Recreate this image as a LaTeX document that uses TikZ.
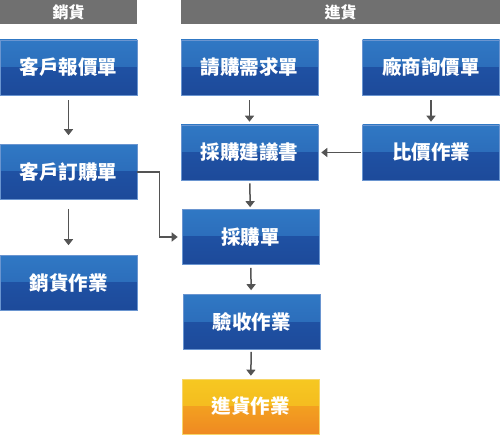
\documentclass[tikz,border=0pt]{standalone}
\usepackage{fontspec}
\newfontfamily\cjk{Noto Sans CJK TC}
\usetikzlibrary{arrows.meta}
\definecolor{hdrgray}{HTML}{707070}
\definecolor{arrowgray}{HTML}{545454}
\definecolor{blueA}{HTML}{3078C4}
\definecolor{blueB}{HTML}{2863B2}
\definecolor{blueC}{HTML}{1F51A3}
\definecolor{blueD}{HTML}{1D4A9A}
\definecolor{blueedge}{HTML}{6A95D0}
\definecolor{orangeA}{HTML}{F6C821}
\definecolor{orangeB}{HTML}{F4B01F}
\definecolor{orangeC}{HTML}{F3A020}
\definecolor{orangeD}{HTML}{EF8922}
\definecolor{orangeedge}{HTML}{F7D66A}
\tikzset{
	glossy/.style n args={5}{draw=#5, line width=.6pt,
		path picture={
			\fill[top color=#1, bottom color=#2] (path picture bounding box.north west) rectangle (path picture bounding box.east);
			\fill[top color=#3, bottom color=#4] (path picture bounding box.west) rectangle (path picture bounding box.south east);
		}},
	cell/.style={minimum width=137pt, minimum height=55pt, inner sep=0pt, text=white,
		font=\cjk\bfseries\fontsize{19.5}{21}\selectfont},
	bluecell/.style={cell, glossy={blueA}{blueB}{blueC}{blueD}{blueedge}},
	orangecell/.style={cell, glossy={orangeA}{orangeB}{orangeC}{orangeD}{orangeedge}},
	hdr/.style={fill=hdrgray, text=white, minimum height=24pt, inner sep=0pt,
		font=\cjk\bfseries\fontsize{16}{17}\selectfont},
	flow/.style={draw=arrowgray, line width=1.5pt, -{Triangle[width=9pt,length=6pt]}}
}
\begin{document}
\begin{tikzpicture}[x=1pt,y=-1pt]
	\useasboundingbox (0,0) rectangle (500,435);
	% headers
	\node[hdr, minimum width=137pt] at (68.5,12) (sales hdr) {銷貨};
	\node[hdr, minimum width=319pt] at (340.5,12) (purch hdr) {進貨};
	
	% sales column
	\node[bluecell] at (68.5,67.5) (quote) {客戶報價單};
	\node[bluecell] at (68.5,172) (order) {客戶訂購單};
	\node[bluecell] at (68.5,283) (sales) {銷貨作業};
	
	% purchase column
	\node[bluecell] at (249.5,67.5) (request) {請購需求單};
	\node[bluecell] at (431,67.5) (vendor) {廠商詢價單};
	\node[bluecell] at (249.5,152.5) (suggest) {採購建議書};
	\node[bluecell] at (431,152.5) (compare) {比價作業};
	\node[bluecell] at (250.5,237) (po) {採購單};
	\node[bluecell] at (251.5,322) (accept) {驗收作業};
	\node[orangecell] at (250.5,406.5) (stockin) {進貨作業};
	
	\draw[flow, shorten <=5pt, shorten >=9pt] (quote) -- (order);
	\draw[flow, shorten <=9pt, shorten >=10pt] (order) -- (sales);
	\draw[flow, shorten >=4pt] (order.east) -- ++(22,0) |- (po.west);
	\draw[flow, shorten <=5pt, shorten >=3pt] (request) -- (suggest);
	\draw[flow, shorten <=5pt, shorten >=3pt] (vendor) -- (compare);
	\draw[flow, shorten <=1pt, shorten >=3pt] (compare) -- (suggest);
	\draw[flow, shorten <=3pt, shorten >=2pt] (suggest) -- (po);
	\draw[flow, shorten <=3pt, shorten >=4pt] (po) -- (accept);
	\draw[flow, shorten <=2pt, shorten >=3pt] (accept) -- (stockin);
\end{tikzpicture}
\end{document}
